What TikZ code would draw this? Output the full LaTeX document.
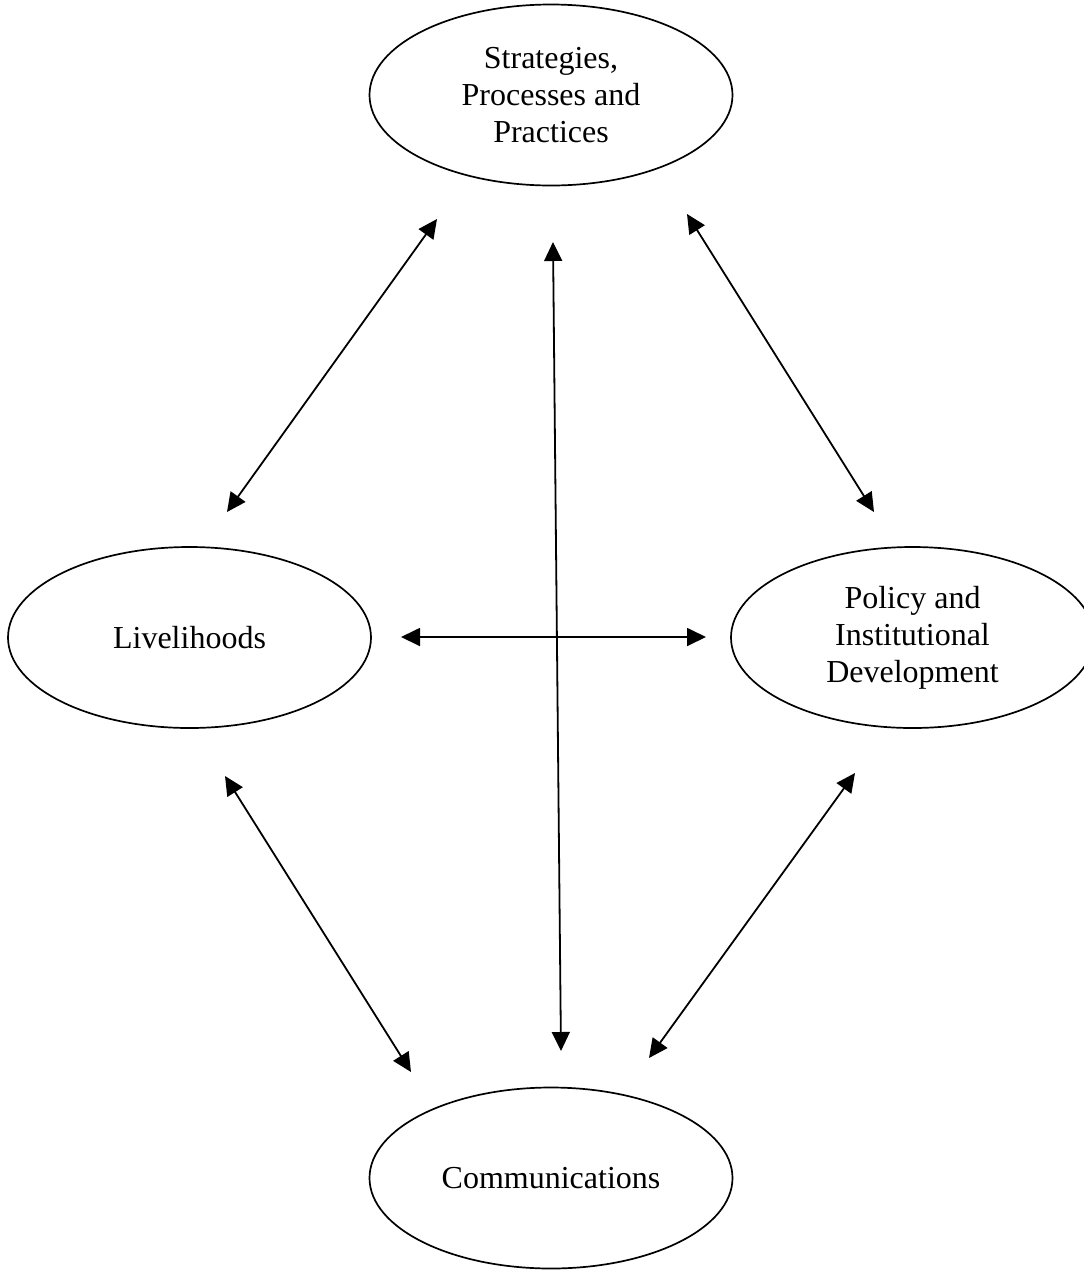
\documentclass[tikz,border=0pt]{standalone}
\usepackage{fontspec}
\setmainfont{Liberation Serif}
\usetikzlibrary{shapes.geometric,arrows.meta}
\begin{document}
\begin{tikzpicture}[x=1pt,y=-1pt,
  oval/.style={draw,ellipse,line width=1.7pt,minimum width=363pt,minimum height=181pt,inner sep=0pt,align=center,font=\fontsize{32}{37}\selectfont},
  link/.style={line width=1.8pt,{Triangle[length=19pt,width=18pt]}-{Triangle[length=19pt,width=18pt]}}]
\useasboundingbox (0,0) rectangle (1084,1270);
\clip (0,0) rectangle (1084,1270);
\node[oval] (top) at (551,95) {Strategies,\\Processes and\\Practices};
\node[oval] (left) at (189.5,637.5) {Livelihoods};
\node[oval] (right) at (912.5,637.5) {Policy and\\Institutional\\Development};
\node[oval] (bot) at (551,1178) {Communications};
\coordinate (tl1) at (437,219);
\coordinate (tl2) at (227,512);
\coordinate (tr1) at (687,214);
\coordinate (tr2) at (874,512);
\coordinate (v1) at (553,242);
\coordinate (v2) at (561,1051);
\coordinate (h1) at (401,637);
\coordinate (h2) at (706,637);
\coordinate (bl1) at (225,776);
\coordinate (bl2) at (411,1072);
\coordinate (br1) at (855,773);
\coordinate (br2) at (649,1058);
\draw[link] (tl1) -- (tl2);
\draw[link] (tr1) -- (tr2);
\draw[link] (v1) -- (v2);
\draw[link] (h1) -- (h2);
\draw[link] (bl1) -- (bl2);
\draw[link] (br1) -- (br2);
\end{tikzpicture}
\end{document}
